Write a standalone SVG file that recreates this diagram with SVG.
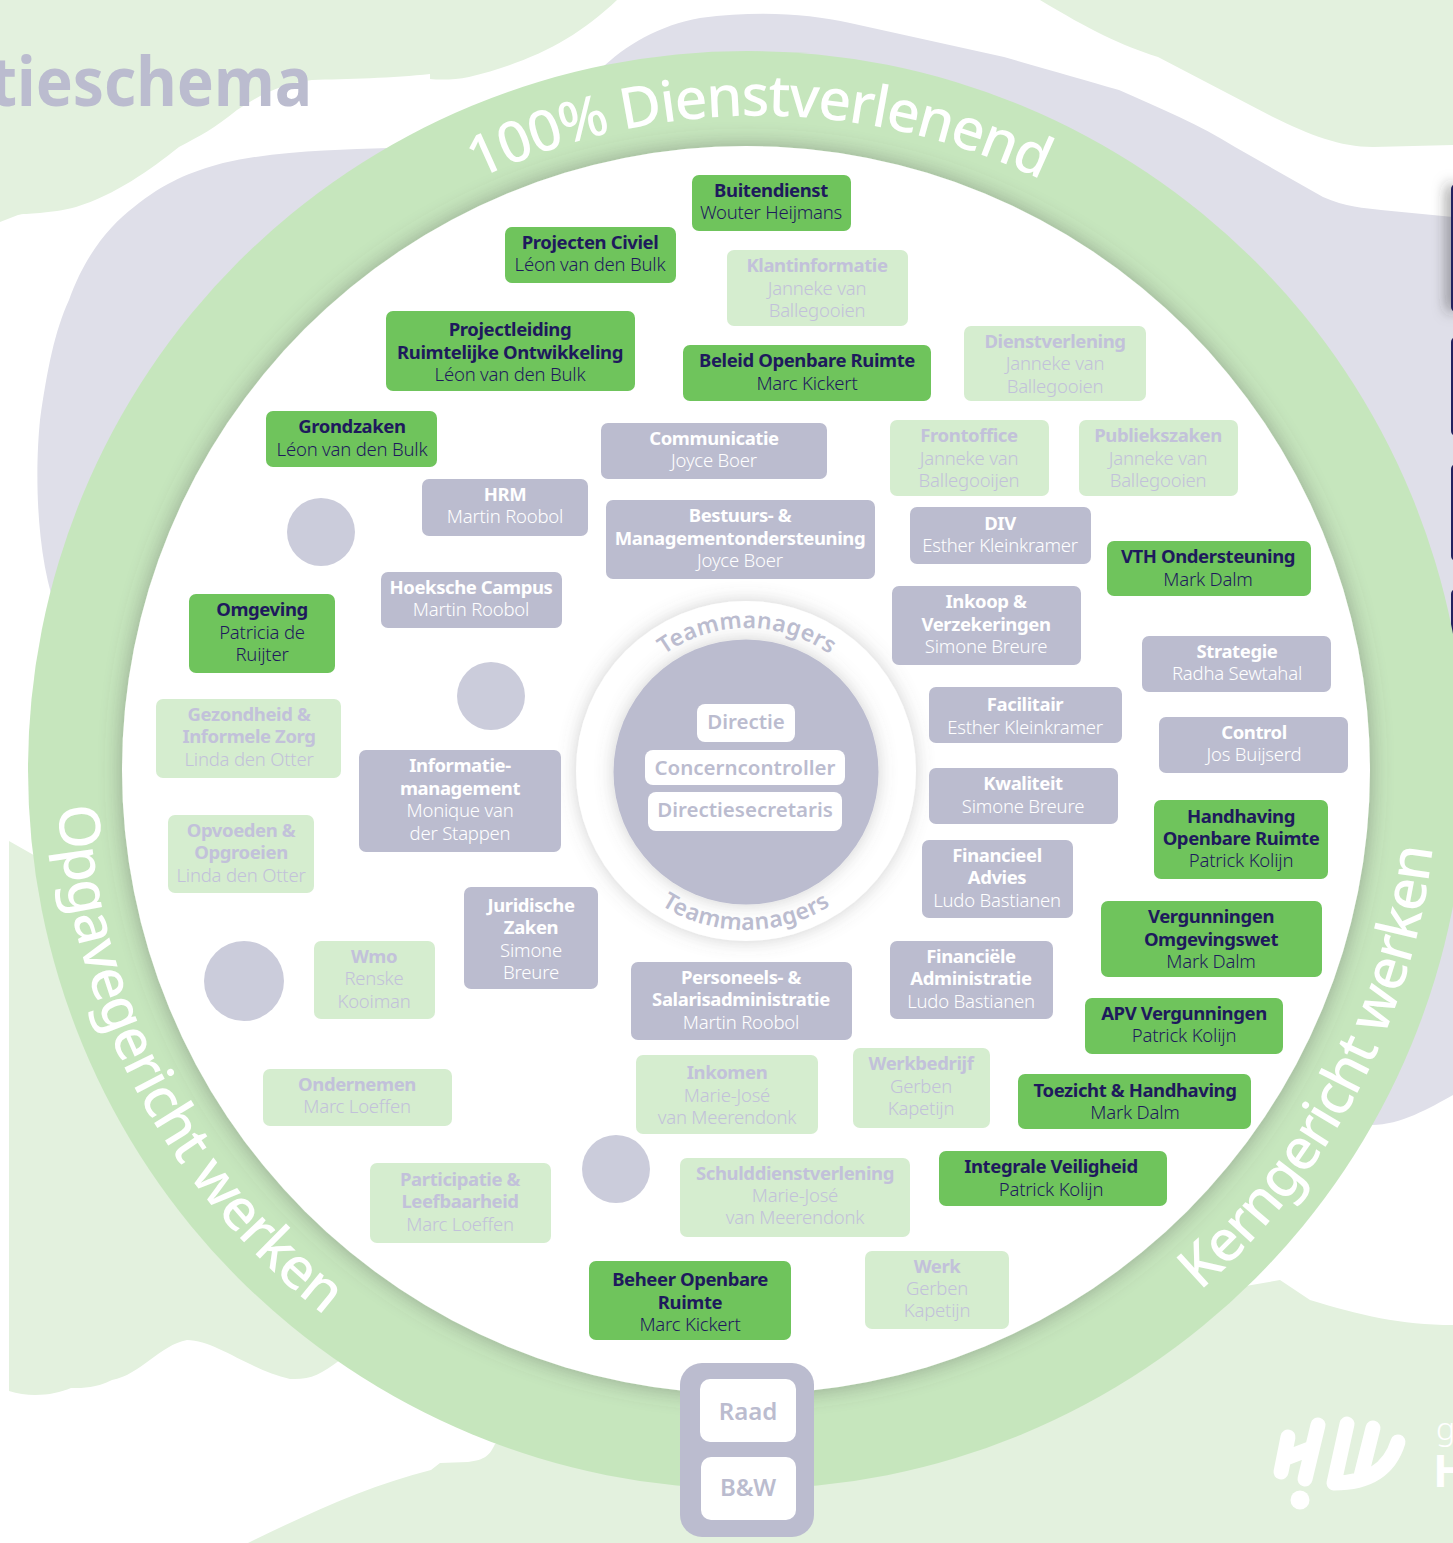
<svg xmlns="http://www.w3.org/2000/svg" width="1453" height="1543" viewBox="0 0 1453 1543">
<style>
text{font-family:"Noto Sans","Liberation Sans",sans-serif;text-anchor:middle}
.b{font-weight:700;font-size:18.5px;letter-spacing:-.4px}
.n{font-weight:300;font-size:18.5px;letter-spacing:-.2px}
.g rect{fill:#6fc45c}.g text{fill:#1e1a5c}
.l rect{fill:#bbbccf}.l text{fill:#fff}
.p rect{fill:#d5edcf}.p text{fill:#c2c1da}
.dot{fill:#cbccdb}
.ring{font-size:57px;fill:#fff;font-weight:500}
.tm{font-size:23px;fill:#bbbccf;font-weight:600}
.c{font-size:20.500px;fill:#bbbccf;font-weight:600}
.blob1{fill:#e3f1de}.blob2{fill:#dfdfe9}
</style>
<defs>
<filter id="sh" x="-20%" y="-20%" width="140%" height="140%"><feDropShadow dx="0" dy="0" stdDeviation="11" flood-color="#555" flood-opacity=".45"/></filter>
<filter id="sh2" x="-20%" y="-20%" width="140%" height="140%"><feDropShadow dx="0" dy="0" stdDeviation="9" flood-color="#666" flood-opacity=".3"/></filter>
<filter id="sh3" x="-300%" y="-20%" width="700%" height="140%"><feDropShadow dx="-4" dy="0" stdDeviation="7" flood-color="#333" flood-opacity=".55"/></filter>
<path id="pTop" d="M165,1040 A653,653 0 1 1 1353,1040"/>
<path id="pOp" d="M58,806 A690,690 0 0 0 747,1460"/>
<path id="pKe" d="M1200,1291 A690,690 0 0 0 1437,770"/>
<path id="pT1" d="M604,771 A143,143 0 0 1 890,771"/>
<path id="pT2" d="M587,771 A159,159 0 0 0 905,771"/>
</defs>
<g id="background">
<path class="blob1" d="M0,0H617C575,40 530,62 469,77C455,80 440,80 430,79V74C395,78 345,79 312,80C280,84 258,96 237,110C215,128 200,136 179,147C150,170 115,195 76,207C50,214 25,213 18,215L0,222Z"/>
<path class="blob1" d="M1040,0C1090,30 1120,45 1158,57L1273,117C1310,135 1340,147 1373,147L1453,145V0Z"/>
<path class="blob2" d="M69,300C85,255 110,225 134,207C165,182 190,172 223,163C280,150 340,150 388,148L600,70C625,45 660,25 700,18C760,10 810,14 850,23L1004,57C1050,70 1085,80 1119,90C1160,108 1200,125 1235,147L1323,197C1345,207 1365,208 1381,210L1453,217V1095C1430,1108 1400,1125 1372,1125L800,770L60,620C35,560 35,470 40,420C47,370 55,330 69,300Z"/>
<path class="blob1" d="M9,841L60,870L600,1300L340,1360C320,1375 310,1380 290,1379C250,1370 215,1340 187,1340C160,1345 140,1375 112,1380C95,1388 85,1388 71,1388C55,1395 30,1398 9,1391Z"/>
<path class="blob1" d="M1453,1325C1400,1325 1360,1315 1310,1300L1280,1280L700,1380L495,1444C490,1455 485,1460 468,1462L440,1463L431,1470C370,1485 305,1515 248,1543H1453Z"/>
<rect x="1451" y="184" width="10" height="128" rx="5" fill="#23225f" filter="url(#sh3)"/>
<rect x="1451" y="337" width="10" height="99" rx="5" fill="#23225f"/>
<rect x="1451" y="464" width="10" height="97" rx="5" fill="#23225f"/>
<rect x="1451" y="589" width="10" height="97" rx="5" fill="#23225f"/>
<text x="312" y="106" textLength="322" lengthAdjust="spacingAndGlyphs" style="text-anchor:end;font-weight:700;font-size:68px;fill:#bbbccf">tieschema</text>
<g id="logo" fill="none" stroke="#fff" stroke-width="15" stroke-linecap="round" stroke-linejoin="round">
<path d="M1288,1437L1281,1472M1318,1425L1305,1479M1286,1458L1312,1448"/>
<path d="M1347,1424L1334,1483M1373,1428L1361,1476M1398,1442C1390,1468 1370,1483 1334,1483"/>
<circle cx="1300" cy="1500" r="9.5" fill="#fff" stroke="none"/>
</g>
<text x="1436" y="1440" style="text-anchor:start;font-size:32px;font-weight:300;fill:#fff">g</text>
<text x="1433" y="1487" style="text-anchor:start;font-size:45px;font-weight:700;fill:#fff">H</text>
</g>
<g id="ring">
<circle cx="747" cy="770" r="719" fill="#c6e6bd"/>
<circle cx="746" cy="770" r="624" fill="#fff" filter="url(#sh)"/>
<text class="ring"><textPath href="#pTop" startOffset="50%" letter-spacing="-1.5">100% Dienstverlenend</textPath></text>
<text class="ring" style="text-anchor:start"><textPath href="#pOp" letter-spacing="-1.5">Opgavegericht werken</textPath></text>
<text class="ring" style="text-anchor:start"><textPath href="#pKe" letter-spacing="-1.6">Kerngericht werken</textPath></text>
</g>
<g id="centre">
<circle cx="746" cy="771" r="170" fill="#fff" filter="url(#sh2)"/>
<circle cx="746" cy="772" r="132.500" fill="#bbbccf" filter="url(#sh2)"/>
<text class="tm"><textPath href="#pT1" startOffset="50%" letter-spacing=".3">Teammanagers</textPath></text>
<text class="tm"><textPath href="#pT2" startOffset="50%" letter-spacing=".5">Teammanagers</textPath></text>
<g id="directie"><rect x="697" y="704" width="98" height="38" rx="8" fill="#fff"/><text class="c" x="746" y="729">Directie</text></g>
<g id="concerncontroller"><rect x="645" y="750" width="200" height="35" rx="8" fill="#fff"/><text class="c" x="745" y="775">Concerncontroller</text></g>
<g id="directiesecretaris"><rect x="648" y="792" width="194" height="39" rx="8" fill="#fff"/><text class="c" x="745" y="817">Directiesecretaris</text></g>
</g>
<g id="raad-bw">
<rect x="680" y="1363" width="134" height="174" rx="22" fill="#bbbccf"/>
<g id="raad"><rect x="700" y="1379" width="96" height="63" rx="10" fill="#fff"/><text class="c" style="font-size:24px" x="748" y="1420">Raad</text></g>
<g id="bw"><rect x="701" y="1457" width="95" height="63" rx="10" fill="#fff"/><text class="c" style="font-size:24px" x="748" y="1496">B&amp;W</text></g>
</g>
<g id="circles">
<circle class="dot" cx="321" cy="532" r="34"/>
<circle class="dot" cx="491" cy="696" r="34"/>
<circle class="dot" cx="244" cy="981" r="40"/>
<circle class="dot" cx="616" cy="1169" r="34"/>
</g>
<g id="n1" class="g"><rect x="692" y="175" width="159" height="56" rx="7"/><text class="b" x="771" y="197">Buitendienst</text><text class="n" x="771" y="219">Wouter Heijmans</text></g>
<g id="n2" class="g"><rect x="505" y="227" width="171" height="56" rx="7"/><text class="b" x="590" y="249">Projecten Civiel</text><text class="n" x="590" y="271">Léon van den Bulk</text></g>
<g id="n3" class="g"><rect x="386" y="311" width="249" height="80" rx="7"/><text class="b" x="510" y="336">Projectleiding</text><text class="b" x="510" y="359">Ruimtelijke Ontwikkeling</text><text class="n" x="510" y="381">Léon van den Bulk</text></g>
<g id="n4" class="g"><rect x="683" y="345" width="248" height="56" rx="7"/><text class="b" x="807" y="367">Beleid Openbare Ruimte</text><text class="n" x="807" y="390">Marc Kickert</text></g>
<g id="n5" class="g"><rect x="266" y="411" width="171" height="56" rx="7"/><text class="b" x="352" y="433">Grondzaken</text><text class="n" x="352" y="456">Léon van den Bulk</text></g>
<g id="n6" class="g"><rect x="1107" y="541" width="204" height="55" rx="7"/><text class="b" x="1208" y="563">VTH Ondersteuning</text><text class="n" x="1208" y="586">Mark Dalm</text></g>
<g id="n7" class="g"><rect x="189" y="594" width="146" height="79" rx="7"/><text class="b" x="262" y="616">Omgeving</text><text class="n" x="262" y="639">Patricia de</text><text class="n" x="262" y="661">Ruijter</text></g>
<g id="n8" class="g"><rect x="1154" y="800" width="174" height="79" rx="7"/><text class="b" x="1241" y="823">Handhaving</text><text class="b" x="1241" y="845">Openbare Ruimte</text><text class="n" x="1241" y="867">Patrick Kolijn</text></g>
<g id="n9" class="g"><rect x="1101" y="901" width="221" height="76" rx="7"/><text class="b" x="1211" y="923">Vergunningen</text><text class="b" x="1211" y="946">Omgevingswet</text><text class="n" x="1211" y="968">Mark Dalm</text></g>
<g id="n10" class="g"><rect x="1085" y="998" width="198" height="56" rx="7"/><text class="b" x="1184" y="1020">APV Vergunningen</text><text class="n" x="1184" y="1042">Patrick Kolijn</text></g>
<g id="n11" class="g"><rect x="1018" y="1074" width="233" height="55" rx="7"/><text class="b" x="1135" y="1097">Toezicht &amp; Handhaving</text><text class="n" x="1135" y="1119">Mark Dalm</text></g>
<g id="n12" class="g"><rect x="939" y="1151" width="228" height="55" rx="7"/><text class="b" x="1051" y="1173">Integrale Veiligheid</text><text class="n" x="1051" y="1196">Patrick Kolijn</text></g>
<g id="n13" class="g"><rect x="589" y="1261" width="202" height="79" rx="7"/><text class="b" x="690" y="1286">Beheer Openbare</text><text class="b" x="690" y="1309">Ruimte</text><text class="n" x="690" y="1331">Marc Kickert</text></g>
<g id="n14" class="l"><rect x="601" y="423" width="226" height="56" rx="7"/><text class="b" x="714" y="445">Communicatie</text><text class="n" x="714" y="467">Joyce Boer</text></g>
<g id="n15" class="l"><rect x="422" y="479" width="166" height="57" rx="7"/><text class="b" x="505" y="501">HRM</text><text class="n" x="505" y="523">Martin Roobol</text></g>
<g id="n16" class="l"><rect x="606" y="500" width="269" height="79" rx="7"/><text class="b" x="740" y="522">Bestuurs- &amp;</text><text class="b" x="740" y="545">Managementondersteuning</text><text class="n" x="740" y="567">Joyce Boer</text></g>
<g id="n17" class="l"><rect x="910" y="507" width="181" height="57" rx="7"/><text class="b" x="1000" y="530">DIV</text><text class="n" x="1000" y="552">Esther Kleinkramer</text></g>
<g id="n18" class="l"><rect x="381" y="572" width="181" height="56" rx="7"/><text class="b" x="471" y="594">Hoeksche Campus</text><text class="n" x="471" y="616">Martin Roobol</text></g>
<g id="n19" class="l"><rect x="892" y="586" width="189" height="79" rx="7"/><text class="b" x="986" y="608">Inkoop &amp;</text><text class="b" x="986" y="631">Verzekeringen</text><text class="n" x="986" y="653">Simone Breure</text></g>
<g id="n20" class="l"><rect x="1142" y="636" width="189" height="56" rx="7"/><text class="b" x="1237" y="658">Strategie</text><text class="n" x="1237" y="680">Radha Sewtahal</text></g>
<g id="n21" class="l"><rect x="929" y="687" width="193" height="56" rx="7"/><text class="b" x="1025" y="711">Facilitair</text><text class="n" x="1025" y="734">Esther Kleinkramer</text></g>
<g id="n22" class="l"><rect x="1159" y="717" width="189" height="56" rx="7"/><text class="b" x="1254" y="739">Control</text><text class="n" x="1254" y="761">Jos Buijserd</text></g>
<g id="n23" class="l"><rect x="359" y="750" width="202" height="102" rx="7"/><text class="b" x="460" y="772">Informatie-</text><text class="b" x="460" y="795">management</text><text class="n" x="460" y="817">Monique van</text><text class="n" x="460" y="840">der Stappen</text></g>
<g id="n24" class="l"><rect x="929" y="768" width="189" height="56" rx="7"/><text class="b" x="1023" y="790">Kwaliteit</text><text class="n" x="1023" y="813">Simone Breure</text></g>
<g id="n25" class="l"><rect x="922" y="840" width="151" height="78" rx="7"/><text class="b" x="997" y="862">Financieel</text><text class="b" x="997" y="884">Advies</text><text class="n" x="997" y="907">Ludo Bastianen</text></g>
<g id="n26" class="l"><rect x="464" y="887" width="134" height="102" rx="7"/><text class="b" x="531" y="912">Juridische</text><text class="b" x="531" y="934">Zaken</text><text class="n" x="531" y="957">Simone</text><text class="n" x="531" y="979">Breure</text></g>
<g id="n27" class="l"><rect x="890" y="941" width="163" height="78" rx="7"/><text class="b" x="971" y="963">Financiële</text><text class="b" x="971" y="985">Administratie</text><text class="n" x="971" y="1008">Ludo Bastianen</text></g>
<g id="n28" class="l"><rect x="631" y="962" width="221" height="78" rx="7"/><text class="b" x="741" y="984">Personeels- &amp;</text><text class="b" x="741" y="1006">Salarisadministratie</text><text class="n" x="741" y="1029">Martin Roobol</text></g>
<g id="n29" class="p"><rect x="727" y="250" width="181" height="76" rx="7"/><text class="b" x="817" y="272">Klantinformatie</text><text class="n" x="817" y="295">Janneke van</text><text class="n" x="817" y="317">Ballegooien</text></g>
<g id="n30" class="p"><rect x="964" y="326" width="182" height="75" rx="7"/><text class="b" x="1055" y="348">Dienstverlening</text><text class="n" x="1055" y="370">Janneke van</text><text class="n" x="1055" y="393">Ballegooien</text></g>
<g id="n31" class="p"><rect x="890" y="420" width="159" height="76" rx="7"/><text class="b" x="969" y="442">Frontoffice</text><text class="n" x="969" y="465">Janneke van</text><text class="n" x="969" y="487">Ballegooijen</text></g>
<g id="n32" class="p"><rect x="1079" y="420" width="159" height="76" rx="7"/><text class="b" x="1158" y="442">Publiekszaken</text><text class="n" x="1158" y="465">Janneke van</text><text class="n" x="1158" y="487">Ballegooien</text></g>
<g id="n33" class="p"><rect x="156" y="699" width="185" height="79" rx="7"/><text class="b" x="249" y="721">Gezondheid &amp;</text><text class="b" x="249" y="743">Informele Zorg</text><text class="n" x="249" y="766">Linda den Otter</text></g>
<g id="n34" class="p"><rect x="168" y="815" width="146" height="78" rx="7"/><text class="b" x="241" y="837">Opvoeden &amp;</text><text class="b" x="241" y="859">Opgroeien</text><text class="n" x="241" y="882">Linda den Otter</text></g>
<g id="n35" class="p"><rect x="314" y="941" width="121" height="78" rx="7"/><text class="b" x="374" y="963">Wmo</text><text class="n" x="374" y="985">Renske</text><text class="n" x="374" y="1008">Kooiman</text></g>
<g id="n36" class="p"><rect x="263" y="1069" width="189" height="57" rx="7"/><text class="b" x="357" y="1091">Ondernemen</text><text class="n" x="357" y="1113">Marc Loeffen</text></g>
<g id="n37" class="p"><rect x="636" y="1055" width="182" height="79" rx="7"/><text class="b" x="727" y="1079">Inkomen</text><text class="n" x="727" y="1102">Marie-José</text><text class="n" x="727" y="1124">van Meerendonk</text></g>
<g id="n38" class="p"><rect x="853" y="1048" width="137" height="80" rx="7"/><text class="b" x="921" y="1070">Werkbedrijf</text><text class="n" x="921" y="1093">Gerben</text><text class="n" x="921" y="1115">Kapetijn</text></g>
<g id="n39" class="p"><rect x="370" y="1163" width="181" height="80" rx="7"/><text class="b" x="460" y="1186">Participatie &amp;</text><text class="b" x="460" y="1208">Leefbaarheid</text><text class="n" x="460" y="1231">Marc Loeffen</text></g>
<g id="n40" class="p"><rect x="680" y="1158" width="230" height="79" rx="7"/><text class="b" x="795" y="1180">Schulddienstverlening</text><text class="n" x="795" y="1202">Marie-José</text><text class="n" x="795" y="1224">van Meerendonk</text></g>
<g id="n41" class="p"><rect x="865" y="1251" width="144" height="78" rx="7"/><text class="b" x="937" y="1273">Werk</text><text class="n" x="937" y="1295">Gerben</text><text class="n" x="937" y="1317">Kapetijn</text></g>
</svg>
